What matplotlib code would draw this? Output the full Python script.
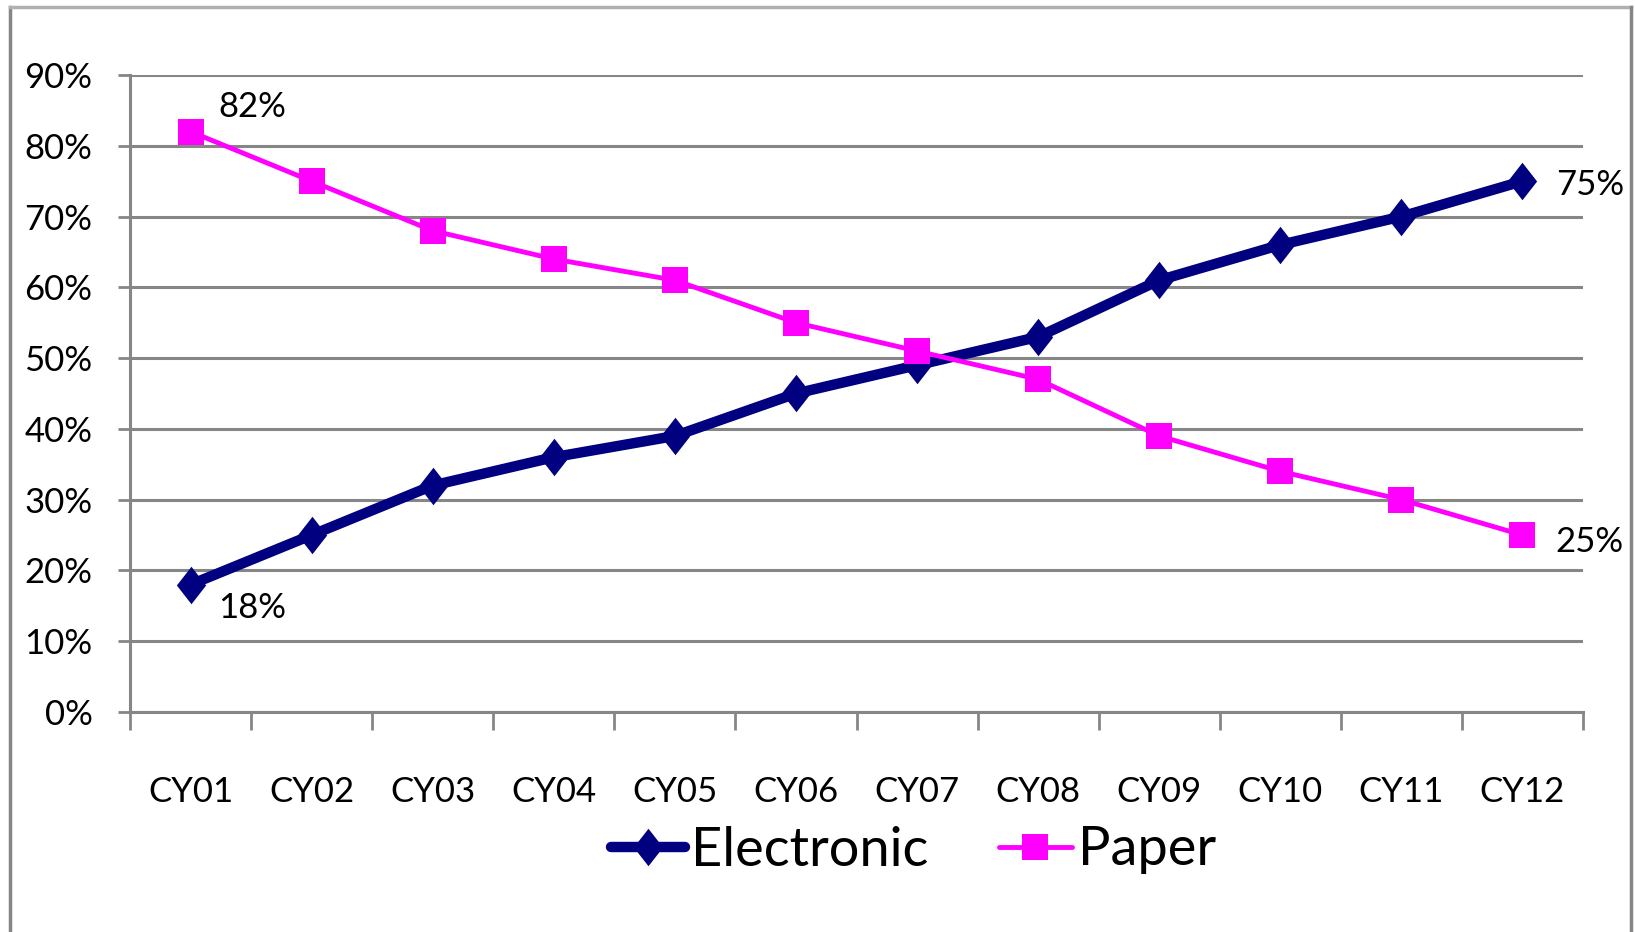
import matplotlib.pyplot as plt
from matplotlib.lines import Line2D

# Podaci
godine = ["CY01", "CY02", "CY03", "CY04", "CY05", "CY06",
          "CY07", "CY08", "CY09", "CY10", "CY11", "CY12"]
electronic = [0.18, 0.25, 0.32, 0.36, 0.39, 0.45, 0.49, 0.53, 0.61, 0.66, 0.70, 0.75]
paper = [0.82, 0.75, 0.68, 0.64, 0.61, 0.55, 0.51, 0.47, 0.39, 0.34, 0.30, 0.25]
y_ticks = [0.0, 0.1, 0.2, 0.3, 0.4, 0.5, 0.6, 0.7, 0.8, 0.9]

plt.rcParams["font.family"] = ["Lato", "DejaVu Sans"]

NAVY = "#000080"
MAGENTA = "#FF00FF"
GRID = "#868686"
FS = 25

# romb malo uzi nego visi
romb = [(0, 1), (0.78, 0), (0, -1), (-0.78, 0), (0, 1)]

fig = plt.figure(figsize=(16.35, 9.32), dpi=100)
ax = fig.add_axes([130 / 1635, 1 - 712 / 932, (1583 - 130) / 1635, (712 - 75) / 932])

x = list(range(len(godine)))
ax.plot(x, electronic, color=NAVY, linewidth=7.5, marker=romb, markersize=27,
        markeredgewidth=0, label="Electronic", zorder=3)
ax.plot(x, paper, color=MAGENTA, linewidth=3.5, marker="s", markersize=19,
        markeredgewidth=0, label="Paper", zorder=4)

ax.set_xlim(-0.5, len(godine) - 0.5)
ax.set_ylim(0, 0.9)

ax.set_yticks(y_ticks)
ax.set_yticklabels([f"{int(round(v * 100))}%" for v in y_ticks])
ax.set_xticks(x)
ax.set_xticklabels(godine)
ax.set_xticks([i - 0.5 for i in range(len(godine) + 1)], minor=True)

ax.tick_params(axis="y", length=9, width=2, color=GRID, pad=18, labelsize=FS)
ax.tick_params(axis="x", which="major", length=0, pad=46, labelsize=FS)
ax.tick_params(axis="x", which="minor", length=13, width=2, color=GRID)

ax.grid(True, axis="y", color=GRID, linewidth=2.2)
ax.set_axisbelow(True)
for s in ["top", "right"]:
    ax.spines[s].set_visible(False)
for s in ["left", "bottom"]:
    ax.spines[s].set_color(GRID)
    ax.spines[s].set_linewidth(2.2)

# Oznake vrijednosti na krajevima
ax.annotate(f"{int(round(paper[0] * 100))}%", (x[0], paper[0]), xytext=(28, 25),
            textcoords="offset pixels", ha="left", va="center", fontsize=FS)
ax.annotate(f"{int(round(electronic[0] * 100))}%", (x[0], electronic[0]), xytext=(28, -23),
            textcoords="offset pixels", ha="left", va="center", fontsize=FS)
ax.annotate(f"{int(round(electronic[-1] * 100))}%", (x[-1], electronic[-1]), xytext=(34, -4),
            textcoords="offset pixels", ha="left", va="center", fontsize=FS)
ax.annotate(f"{int(round(paper[-1] * 100))}%", (x[-1], paper[-1]), xytext=(33, -7),
            textcoords="offset pixels", ha="left", va="center", fontsize=FS)

# Legenda
h1 = Line2D([], [], color=NAVY, linewidth=7.5, marker=romb, markersize=27, markeredgewidth=0,
            solid_capstyle="round")
h2 = Line2D([], [], color=MAGENTA, linewidth=3.5, marker="s", markersize=19, markeredgewidth=0,
            solid_capstyle="round")
fig.legend([h1, h2], ["Electronic", "Paper"], loc="center", bbox_to_anchor=(914 / 1635, 1 - 850 / 932),
           ncol=2, frameon=False, fontsize=39, handlelength=1.35, handletextpad=0.12,
           columnspacing=1.3, borderpad=0, borderaxespad=0)

# Okvir oko grafa (bez donjeg ruba)
fig.add_artist(Line2D([10 / 1635, 10 / 1635], [0, 1 - 7 / 932], color=GRID, linewidth=2.5,
                      transform=fig.transFigure))
fig.add_artist(Line2D([10 / 1635, 1631 / 1635], [1 - 7 / 932, 1 - 7 / 932], color="#b0b0b0",
                      linewidth=2.5, transform=fig.transFigure))
fig.add_artist(Line2D([1631 / 1635, 1631 / 1635], [0, 1 - 7 / 932], color=GRID, linewidth=2.5,
                      transform=fig.transFigure))

fig.savefig("out.png", dpi=100)
